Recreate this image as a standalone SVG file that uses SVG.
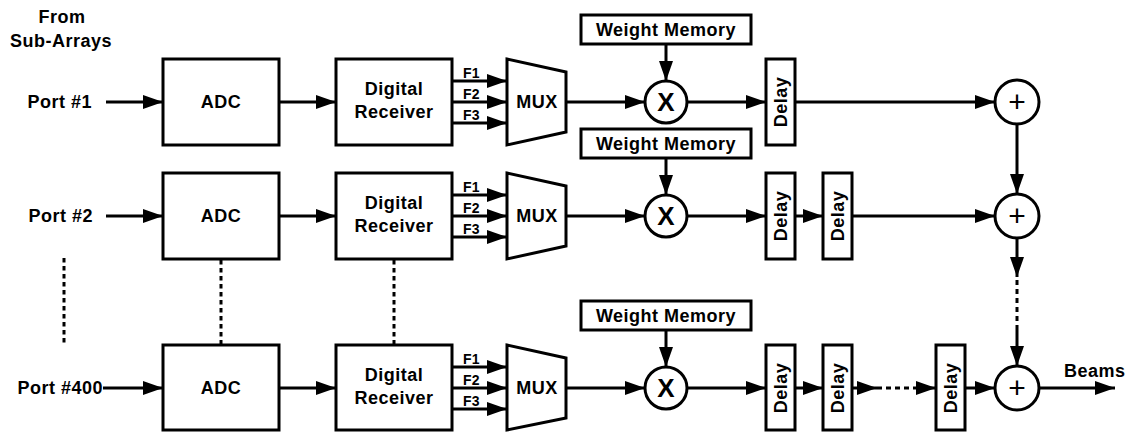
<svg xmlns="http://www.w3.org/2000/svg" width="1130" height="432" viewBox="0 0 1130 432">
<style>
.box{fill:#fff;stroke:#000;stroke-width:3}
.t{font-family:"Liberation Sans",Arial,sans-serif;font-weight:bold;font-size:18px;letter-spacing:0.5px;text-anchor:middle;fill:#000}
.f{font-size:14px;letter-spacing:0.3px;text-anchor:start}
.x{font-size:26px;letter-spacing:0}
.p{font-family:"Liberation Sans",Arial,sans-serif;font-weight:normal;font-size:30px;text-anchor:middle;fill:#000}
.w{stroke:#000;stroke-width:3;fill:none}
.a{marker-end:url(#ah)}
.d{stroke-dasharray:4.5 3.5}
.dd{stroke-dasharray:5 4}
</style>
<defs>
<marker id="ah" markerUnits="userSpaceOnUse" markerWidth="20" markerHeight="14" refX="20" refY="7" orient="auto"><path d="M0,0 L20,7 L0,14 z" fill="#000"/></marker>
</defs>
<rect width="1130" height="432" fill="#fff"/>
<g id="title"><text class="t" x="62" y="23">From</text><text class="t" x="61" y="47">Sub-Arrays</text></g>

<!-- Row 1 -->
<g id="port1"><text class="t" x="92" y="108" style="text-anchor:end">Port #1</text></g>
<g id="adc1"><rect class="box" x="163" y="59" width="116" height="86"/><text class="t" x="221" y="108">ADC</text></g>
<g id="dr1"><rect class="box" x="336" y="59" width="116" height="86"/><text class="t" x="394" y="95">Digital</text><text class="t" x="394" y="118">Receiver</text></g>
<g id="flabels1"><text class="t f" x="463" y="78">F1</text><text class="t f" x="463" y="99">F2</text><text class="t f" x="463" y="120">F3</text></g>
<g id="mux1"><polygon class="box" points="507,59 566,72 566,132 507,145"/><text class="t" x="537" y="108">MUX</text></g>
<g id="wm1"><rect class="box" x="581" y="15" width="170" height="29"/><text class="t" x="666" y="36">Weight Memory</text></g>
<g id="mul1"><circle class="box" cx="666" cy="102" r="21"/><text class="t x" x="666" y="111">X</text></g>
<g id="delay1a"><rect class="box" x="766" y="59" width="29" height="86"/><text class="t" transform="translate(787,102) rotate(-90)">Delay</text></g>
<g id="sum1"><circle class="box" cx="1017" cy="102" r="22"/><text class="p" x="1017" y="112">+</text></g>

<!-- Row 2 -->
<g id="port2"><text class="t" x="93" y="222" style="text-anchor:end">Port #2</text></g>
<g id="adc2"><rect class="box" x="163" y="173" width="116" height="86"/><text class="t" x="221" y="222">ADC</text></g>
<g id="dr2"><rect class="box" x="336" y="173" width="116" height="86"/><text class="t" x="394" y="209">Digital</text><text class="t" x="394" y="232">Receiver</text></g>
<g id="flabels2"><text class="t f" x="463" y="192">F1</text><text class="t f" x="463" y="213">F2</text><text class="t f" x="463" y="234">F3</text></g>
<g id="mux2"><polygon class="box" points="507,173 566,186 566,246 507,259"/><text class="t" x="537" y="222">MUX</text></g>
<g id="wm2"><rect class="box" x="581" y="129" width="170" height="29"/><text class="t" x="666" y="150">Weight Memory</text></g>
<g id="mul2"><circle class="box" cx="666" cy="216" r="21"/><text class="t x" x="666" y="225">X</text></g>
<g id="delay2a"><rect class="box" x="766" y="173" width="29" height="86"/><text class="t" transform="translate(787,216) rotate(-90)">Delay</text></g>
<g id="delay2b"><rect class="box" x="823" y="173" width="29" height="86"/><text class="t" transform="translate(844,216) rotate(-90)">Delay</text></g>
<g id="sum2"><circle class="box" cx="1017" cy="216" r="22"/><text class="p" x="1017" y="226">+</text></g>

<!-- Row 3 -->
<g id="port400"><text class="t" x="103" y="394" style="text-anchor:end">Port #400</text></g>
<g id="adc3"><rect class="box" x="163" y="345" width="116" height="85"/><text class="t" x="221" y="394">ADC</text></g>
<g id="dr3"><rect class="box" x="336" y="345" width="116" height="85"/><text class="t" x="394" y="381">Digital</text><text class="t" x="394" y="404">Receiver</text></g>
<g id="flabels3"><text class="t f" x="463" y="364">F1</text><text class="t f" x="463" y="385">F2</text><text class="t f" x="463" y="406">F3</text></g>
<g id="mux3"><polygon class="box" points="507,345 566,358 566,418 507,430"/><text class="t" x="537" y="394">MUX</text></g>
<g id="wm3"><rect class="box" x="581" y="301" width="170" height="29"/><text class="t" x="666" y="322">Weight Memory</text></g>
<g id="mul3"><circle class="box" cx="666" cy="388" r="21"/><text class="t x" x="666" y="397">X</text></g>
<g id="delay3a"><rect class="box" x="766" y="345" width="29" height="85"/><text class="t" transform="translate(787,388) rotate(-90)">Delay</text></g>
<g id="delay3b"><rect class="box" x="823" y="345" width="29" height="85"/><text class="t" transform="translate(844,388) rotate(-90)">Delay</text></g>
<g id="delay3c"><rect class="box" x="936" y="345" width="29" height="85"/><text class="t" transform="translate(957,388) rotate(-90)">Delay</text></g>
<g id="sum3"><circle class="box" cx="1017" cy="388" r="22"/><text class="p" x="1017" y="398">+</text></g>
<g id="beams"><text class="t" x="1064" y="377" style="text-anchor:start">Beams</text></g>

<g id="connectors" class="w">
<path class="a" d="M106,102 H163"/>
<path class="a" d="M279,102 H336"/>
<path class="a" d="M452,81 H507"/>
<path class="a" d="M452,102 H507"/>
<path class="a" d="M452,123 H507"/>
<path class="a" d="M566,102 H645"/>
<path class="a" d="M666,44 V81"/>
<path class="a" d="M687,102 H766"/>
<path class="a" d="M795,102 H995"/>

<path class="a" d="M106,216 H163"/>
<path class="a" d="M279,216 H336"/>
<path class="a" d="M452,195 H507"/>
<path class="a" d="M452,216 H507"/>
<path class="a" d="M452,237 H507"/>
<path class="a" d="M566,216 H645"/>
<path class="a" d="M666,158 V195"/>
<path class="a" d="M687,216 H766"/>
<path class="a" d="M795,216 H823"/>
<path class="a" d="M852,216 H995"/>

<path class="a" d="M103,388 H163"/>
<path class="a" d="M279,388 H336"/>
<path class="a" d="M452,367 H507"/>
<path class="a" d="M452,388 H507"/>
<path class="a" d="M452,409 H507"/>
<path class="a" d="M566,388 H645"/>
<path class="a" d="M666,330 V367"/>
<path class="a" d="M687,388 H766"/>
<path class="a" d="M795,388 H823"/>
<path class="a" d="M852,388 H877"/>
<path class="dd" d="M877,388 H914"/>
<path class="a" d="M914,388 H936"/>
<path class="a" d="M965,388 H995"/>
<path class="a" d="M1039,388 H1115"/>

<path class="a" d="M1017,124 V194"/>
<path class="a" d="M1017,238 V277"/>
<path class="dd" d="M1017,280 V330"/>
<path class="a" d="M1017,330 V366"/>

<path class="d" d="M64,258 V345"/>
<path class="d" d="M221,260 V345"/>
<path class="d" d="M394,260 V345"/>
</g>
</svg>
